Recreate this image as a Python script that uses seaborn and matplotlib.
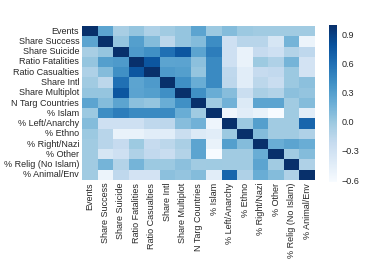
import numpy as np
import pandas as pd
import matplotlib
matplotlib.use("Agg")
import matplotlib.pyplot as plt
import seaborn as sns

labels = ["Events", "Share Success", "Share Suicide", "Ratio Fatalities",
          "Ratio Casualties", "Share Intl", "Share Multiplot", "N Targ Countries",
          "% Islam", "% Left/Anarchy", "% Ethno", "% Right/Nazi", "% Other",
          "% Relig (No Islam)", "% Animal/Env"]

r_events    = [1.00, 0.26, -0.06, 0.02, -0.09, -0.03, 0.02, 0.26, 0.00, 0.09, 0.00, -0.03, -0.03, -0.03, -0.03]
r_success   = [0.26, 1.00, 0.02, 0.30, 0.09, -0.16, 0.02, 0.09, 0.42, -0.28, -0.14, -0.14, -0.35, 0.15, -0.53]
r_suicide   = [-0.06, 0.02, 1.00, 0.33, 0.40, 0.60, 0.76, 0.26, 0.52, -0.28, -0.50, -0.21, -0.28, -0.12, -0.18]
r_fatal     = [0.02, 0.30, 0.33, 1.00, 0.76, 0.26, 0.27, 0.06, 0.44, -0.28, -0.50, -0.01, -0.10, 0.15, -0.32]
r_casual    = [-0.09, 0.09, 0.40, 0.76, 1.00, 0.33, 0.30, 0.02, 0.44, -0.18, -0.44, -0.21, -0.19, 0.00, -0.32]
r_intl      = [-0.03, -0.16, 0.60, 0.26, 0.33, 1.00, 0.41, 0.20, 0.44, -0.17, -0.44, -0.16, -0.24, 0.00, 0.06]
r_multi     = [0.02, 0.02, 0.76, 0.27, 0.30, 0.41, 1.00, 0.40, 0.20, 0.08, -0.25, -0.07, -0.12, 0.06, 0.03]
r_ntarg     = [0.26, 0.09, 0.26, 0.06, 0.02, 0.20, 0.40, 1.00, -0.02, 0.17, -0.40, 0.26, 0.26, -0.03, 0.09]
r_islam     = [0.00, 0.42, 0.52, 0.44, 0.44, 0.44, 0.20, -0.02, 1.00, -0.55, -0.44, -0.50, -0.62, -0.02, -0.44]
r_left      = [0.09, -0.28, -0.28, -0.28, -0.18, -0.17, 0.08, 0.17, -0.55, 1.00, 0.00, 0.30, -0.03, -0.03, 0.67]
r_ethno     = [0.00, -0.14, -0.50, -0.50, -0.44, -0.44, -0.25, -0.40, -0.44, 0.00, 1.00, 0.09, -0.03, -0.03, -0.10]
r_right     = [-0.03, -0.14, -0.21, -0.01, -0.21, -0.16, -0.07, 0.26, -0.50, 0.30, 0.09, 1.00, 0.20, 0.26, 0.20]
r_other     = [-0.03, -0.35, -0.28, -0.10, -0.19, -0.24, -0.12, 0.26, -0.62, -0.03, -0.03, 0.20, 1.00, -0.03, 0.09]
r_relig     = [-0.03, 0.15, -0.12, 0.15, 0.00, 0.00, 0.06, -0.03, -0.02, -0.03, -0.03, 0.26, -0.03, 1.00, -0.10]
r_animal    = [-0.03, -0.53, -0.18, -0.32, -0.32, 0.06, 0.03, 0.09, -0.44, 0.67, -0.10, 0.20, 0.09, -0.10, 1.00]

rows = [r_events, r_success, r_suicide, r_fatal, r_casual, r_intl, r_multi, r_ntarg,
        r_islam, r_left, r_ethno, r_right, r_other, r_relig, r_animal]
df = pd.DataFrame(rows, index=labels, columns=labels)

sns.set_style("white")
plt.rcParams['font.family'] = ['Liberation Sans', 'DejaVu Sans']

fig = plt.figure(figsize=(3.77, 2.60), dpi=100)
ax = fig.add_axes([82/377, 1-180/260, (315-82)/377, (180-26)/260])
cax = fig.add_axes([329/377, 1-182/260, 8/377, (182-25)/260])
sns.heatmap(df, cmap="Blues", ax=ax, cbar_ax=cax, xticklabels=True, yticklabels=True)
ax.tick_params(axis='both', labelsize=6.5, length=0, pad=2)
ax.set_xticklabels(labels, rotation=90)
ax.set_yticklabels(labels, rotation=0)
cax.tick_params(labelsize=6.5, length=0, pad=3)
cax.set_yticks([-0.6, -0.3, 0.0, 0.3, 0.6, 0.9])
cax.set_yticklabels(["\u22120.6", "\u22120.3", "0.0", "0.3", "0.6", "0.9"])
fig.savefig("out.png", dpi=100)
